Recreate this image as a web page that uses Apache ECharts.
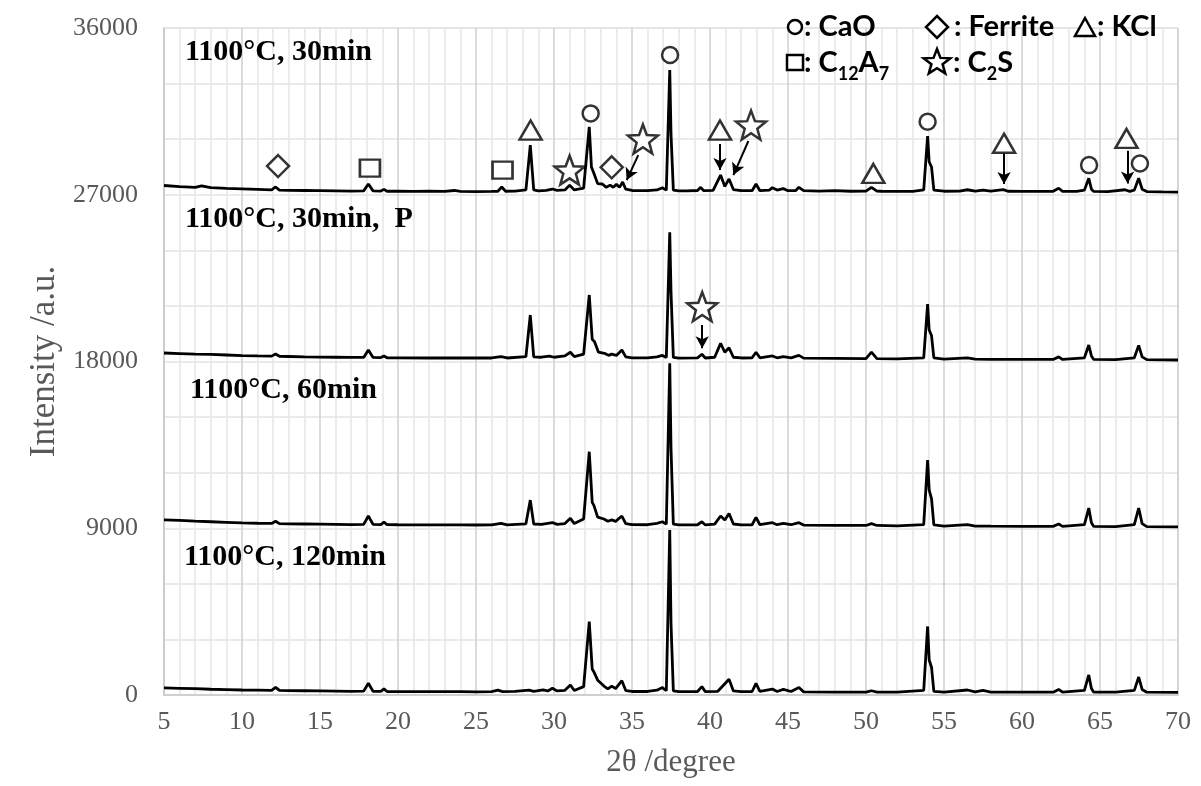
<!DOCTYPE html>
<html>
<head>
<meta charset="utf-8">
<script src="https://cdn.jsdelivr.net/npm/echarts/dist/echarts.min.js"></script>
<style>
  html, body { margin: 0; padding: 0; background: #fff; }
  #main { width: 1201px; height: 786px; }
</style>
</head>
<body>
<div id="main"></div>
<script>
// XRD patterns, [2theta, intensity] (already offset by 9000 per sample)
var xrd_30min = [[5,27500],[6,27440],[7,27400],[7.4,27480],[8,27380],[9,27340],[10,27320],[11,27290],[11.9,27260],[12.15,27420],[12.4,27250],[13,27240],[14,27230],[15,27220],[16,27210],[17,27200],[17.8,27210],[18.1,27580],[18.4,27210],[18.9,27200],[19.1,27290],[19.3,27190],[20,27190],[21,27180],[22,27190],[23,27180],[23.6,27230],[24,27180],[25,27170],[26,27180],[26.4,27190],[26.65,27420],[26.9,27190],[27.5,27200],[28.2,27260],[28.48,29680],[28.7,27260],[29,27210],[29.5,27240],[29.9,27310],[30.2,27240],[30.7,27260],[31.0,27520],[31.3,27260],[31.9,27360],[32.26,30670],[32.4,28500],[32.55,28170],[32.8,27600],[33.1,27580],[33.35,27400],[33.6,27520],[33.8,27400],[34.0,27560],[34.2,27400],[34.4,27690],[34.6,27300],[35,27230],[36,27220],[36.6,27260],[36.95,27380],[37.2,27250],[37.42,33730],[37.5,30300],[37.65,27250],[38,27210],[38.5,27210],[39.2,27230],[39.4,27400],[39.6,27220],[40.2,27240],[40.68,28060],[40.95,27450],[41.22,27850],[41.5,27280],[42,27220],[42.7,27220],[42.95,27580],[43.2,27220],[43.8,27250],[44.0,27380],[44.3,27250],[44.7,27330],[45,27220],[45.5,27230],[45.7,27400],[46,27220],[47,27200],[48,27220],[49,27190],[50,27200],[50.35,27400],[50.7,27200],[51,27190],[52,27180],[53,27180],[53.7,27260],[53.95,30170],[54.05,28780],[54.2,28500],[54.35,27250],[55,27190],[56,27200],[56.5,27270],[57,27200],[57.5,27250],[58,27190],[58.8,27280],[59.1,27190],[60,27180],[61,27180],[62,27190],[62.35,27350],[62.6,27180],[63.5,27180],[64.0,27250],[64.28,27890],[64.45,27300],[64.6,27180],[65.5,27170],[66.6,27270],[66.9,27180],[67.2,27250],[67.48,27890],[67.7,27300],[68,27170],[69,27150],[70,27140]];
var xrd_30min_P = [[5,18460],[6,18430],[7,18400],[8,18380],[9,18350],[10,18320],[11,18300],[11.9,18290],[12.15,18400],[12.4,18280],[13,18270],[14,18250],[15,18240],[16,18230],[17,18220],[17.8,18220],[18.1,18620],[18.4,18220],[18.9,18210],[19.1,18300],[19.3,18200],[20,18200],[22,18190],[24,18190],[25,18190],[26,18190],[26.6,18260],[27,18190],[28.2,18260],[28.48,20510],[28.7,18250],[29.2,18230],[29.7,18290],[30.0,18230],[30.7,18300],[31.05,18500],[31.3,18260],[31.9,18400],[32.26,21590],[32.45,19200],[32.6,19070],[32.85,18500],[33.3,18420],[33.5,18330],[33.7,18400],[34.0,18330],[34.35,18620],[34.6,18250],[35,18200],[36,18200],[36.6,18250],[36.95,18330],[37.2,18220],[37.42,24970],[37.5,21770],[37.65,18220],[38,18180],[39.2,18200],[39.48,18390],[39.7,18190],[40.3,18230],[40.68,18980],[40.95,18500],[41.22,18740],[41.5,18230],[42,18190],[42.7,18200],[42.95,18500],[43.2,18200],[44,18300],[44.3,18200],[44.7,18260],[45.2,18200],[45.7,18330],[46,18180],[48,18170],[50,18160],[50.35,18510],[50.7,18160],[52,18140],[53.7,18200],[53.95,21100],[54.05,19700],[54.2,19400],[54.35,18200],[55,18130],[56.5,18200],[57,18130],[58,18120],[60,18110],[62,18110],[62.35,18250],[62.6,18110],[64.0,18200],[64.28,18890],[64.45,18300],[64.6,18110],[66,18100],[67.2,18200],[67.48,18870],[67.7,18250],[68,18100],[70,18080]];
var xrd_60min = [[5,9450],[6,9420],[7,9380],[8,9350],[9,9320],[10,9290],[11,9270],[11.9,9260],[12.15,9380],[12.4,9250],[13,9240],[14,9230],[15,9220],[16,9210],[17,9200],[17.8,9210],[18.1,9660],[18.4,9210],[18.9,9200],[19.1,9330],[19.3,9200],[20,9190],[22,9180],[24,9180],[25,9175],[26,9180],[26.6,9260],[27,9180],[28.2,9240],[28.48,10520],[28.7,9230],[29.2,9210],[29.9,9310],[30.2,9210],[30.7,9250],[31.05,9535],[31.3,9250],[31.9,9500],[32.26,13130],[32.45,10400],[32.55,10250],[32.8,9600],[33.2,9500],[33.45,9380],[33.7,9450],[33.95,9370],[34.35,9660],[34.6,9250],[35,9200],[36,9190],[36.6,9260],[36.95,9350],[37.2,9220],[37.42,17900],[37.5,13330],[37.65,9220],[38,9180],[39.2,9190],[39.48,9350],[39.7,9180],[40.3,9220],[40.68,9660],[40.95,9450],[41.22,9800],[41.5,9230],[42,9180],[42.7,9190],[42.95,9590],[43.2,9190],[44,9300],[44.3,9190],[44.7,9260],[45.2,9190],[45.7,9300],[46,9170],[48,9160],[50,9150],[50.35,9250],[50.7,9150],[52,9130],[53.7,9200],[53.95,12680],[54.05,11060],[54.2,10600],[54.35,9180],[55,9120],[56.5,9200],[57,9120],[58,9110],[60,9100],[62,9100],[62.35,9230],[62.6,9100],[64.0,9200],[64.28,10090],[64.45,9300],[64.6,9100],[66,9090],[67.2,9200],[67.48,10090],[67.7,9250],[68,9090],[70,9070]];
var xrd_120min = [[5,380],[6,360],[7,340],[8,310],[9,290],[10,270],[11,260],[11.9,250],[12.15,415],[12.4,245],[13,240],[14,230],[15,220],[16,210],[17,200],[17.8,210],[18.1,630],[18.4,200],[18.9,200],[19.1,330],[19.3,190],[20,180],[22,180],[24,180],[25,170],[26,180],[26.4,260],[26.7,180],[27.5,200],[28.4,260],[28.7,200],[29.3,280],[29.6,220],[29.9,360],[30.2,220],[30.7,250],[31.05,540],[31.3,240],[31.9,450],[32.26,3960],[32.45,1400],[32.55,1260],[32.8,800],[33.2,480],[33.45,330],[33.7,480],[33.95,340],[34.35,770],[34.6,240],[35,190],[36,190],[36.6,260],[36.95,400],[37.2,230],[37.42,8900],[37.5,3870],[37.65,220],[38,180],[39.2,190],[39.48,450],[39.7,180],[40.5,200],[41.22,850],[41.5,220],[42,180],[42.7,190],[42.95,630],[43.2,190],[44,320],[44.3,190],[44.7,300],[45.2,190],[45.7,400],[46,170],[48,160],[50,160],[50.35,230],[50.7,160],[52,150],[53.7,250],[53.95,3700],[54.05,1890],[54.2,1500],[54.35,200],[55,160],[56.5,270],[57,170],[57.5,250],[58,160],[60,150],[62,150],[62.35,300],[62.6,150],[64.0,250],[64.28,1080],[64.45,350],[64.6,150],[66,150],[67.2,250],[67.48,970],[67.7,300],[68,150],[70,140]];

// phase markers [2theta, intensity]
var circleMarks = [[32.35,31390],[37.44,34540],[53.95,30940],[64.3,28600],[67.56,28690]];
var diamondMarks = [[12.31,28550],[33.7,28480]];
var triangleMarks = [[28.5,30490],[40.64,30490],[50.47,28150],[58.85,29780],[66.7,30040]];
var squareMarks = [[18.2,28440],[26.7,28330]];
var starMarks = [[31.0,28330],[35.7,30010],[42.63,30760],[39.5,20960]];
// arrows [x1, y1, x2, y2]
var arrows = [[35.4,29140,34.66,27790],[40.64,29740,40.64,28330],[42.46,29900,41.5,28060],[58.85,29230,58.85,27580],[66.77,29370,66.77,27610],[39.5,19970,39.5,18710]];

var yLabelStep = 9000;

// unit star outline (0..100 box), used for the C2S symbol
var starPts = [[50,0],[62.35,33],[97.55,34.55],[69.95,56.5],[79.4,90.45],[50,71],[20.6,90.45],[30.05,56.5],[2.45,34.55],[37.65,33]];
var starPath = 'path://M' + starPts.map(function (p) { return p[0] + ' ' + p[1]; }).join('L') + 'Z';
var serif = '"Liberation Serif", "Times New Roman", serif';
var sans = 'Lato, "Noto Sans", sans-serif';

var chart = echarts.init(document.getElementById('main'));

function traceSeries(name, data) {
    return {
        name: name,
        type: 'line',
        data: data,
        showSymbol: false,
        symbol: 'none',
        lineStyle: {color: '#000', width: 2.8},
        z: 3
    };
}

function markSeries(symbol, size, data) {
    return {
        type: 'scatter',
        symbol: symbol,
        symbolSize: size,
        data: data,
        itemStyle: {color: '#fff', borderColor: '#000', borderWidth: 2.5},
        z: 5,
        silent: true
    };
}

var stars = markSeries(starPath, [30, 29], starMarks);
stars.markLine = {
    silent: true,
    symbol: ['none', 'arrow'],
    symbolSize: [10, 12],
    lineStyle: {color: '#000', width: 2, type: 'solid'},
    label: {show: false},
    data: arrows.map(function (a) {
        return [{coord: [a[0], a[1]]}, {coord: [a[2], a[3]]}];
    })
};

var sampleLabelStyle = {font: 'bold 30px ' + serif, fill: '#000', verticalAlign: 'middle'};
var legendText = {font: 'bold 29px ' + sans, fill: '#000', verticalAlign: 'middle'};
var legendShape = {fill: '#fff', stroke: '#000', lineWidth: 2.5};
var subRich = {s: {font: 'bold 18px ' + sans, verticalAlign: 'bottom', padding: [0, 0, -6, 0]}};

function legendStar(x, y, w, h) {
    return starPts.map(function (p) { return [x + p[0] * w / 100, y + p[1] * h / 100]; });
}

function label(x, y, text) {
    return {type: 'text', x: x, y: y, z: 20, style: Object.assign({text: text}, sampleLabelStyle)};
}

chart.setOption({
    animation: false,
    grid: {left: 164, right: 23, top: 28, bottom: 91, show: true, borderColor: '#d9d9d9', borderWidth: 1},
    xAxis: {
        type: 'value',
        min: 5,
        max: 70,
        interval: 5,
        name: '2θ /degree',
        nameLocation: 'middle',
        nameGap: 52,
        nameTextStyle: {fontFamily: serif, fontSize: 31, color: '#595959'},
        axisLine: {lineStyle: {color: '#c8c8c8', width: 1.5}},
        axisTick: {show: false},
        axisLabel: {fontFamily: serif, fontSize: 26, color: '#595959', margin: 14},
        splitLine: {show: true, lineStyle: {color: '#cfcfcf', width: 1.5}},
        minorTick: {show: false, splitNumber: 5},
        minorSplitLine: {show: true, lineStyle: {color: '#e6e6e6', width: 1.5}}
    },
    yAxis: {
        type: 'value',
        min: 0,
        max: 36000,
        interval: 3000,
        name: 'Intensity /a.u.',
        nameLocation: 'middle',
        nameGap: 102,
        nameTextStyle: {fontFamily: serif, fontSize: 35, color: '#595959'},
        axisLine: {show: true, lineStyle: {color: '#c8c8c8', width: 1.5}},
        axisTick: {show: false},
        axisLabel: {
            fontFamily: serif, fontSize: 26, color: '#595959', margin: 26,
            formatter: function (v) { return v % yLabelStep === 0 ? String(v) : ''; }
        },
        splitLine: {show: true, lineStyle: {color: '#e3e3e3', width: 1.5}}
    },
    series: [
        traceSeries('1100°C, 30min', xrd_30min),
        traceSeries('1100°C, 30min, P', xrd_30min_P),
        traceSeries('1100°C, 60min', xrd_60min),
        traceSeries('1100°C, 120min', xrd_120min),
        markSeries('circle', 16, circleMarks),
        markSeries('diamond', [22, 22], diamondMarks),
        markSeries('triangle', [22, 19], triangleMarks),
        markSeries('rect', [20, 17], squareMarks),
        stars
    ],
    graphic: [
        label(185, 52, '1100°C, 30min'),
        label(185, 219, '1100°C, 30min,  P'),
        label(190, 390, '1100°C, 60min'),
        label(184, 557, '1100°C, 120min'),

        // phase legend
        {type: 'circle', z: 20, shape: {cx: 795, cy: 27, r: 7}, style: legendShape},
        {type: 'text', z: 20, x: 804, y: 27, style: Object.assign({text: ': CaO'}, legendText)},
        {type: 'polygon', z: 20, shape: {points: [[937, 16], [948, 27], [937, 38], [926, 27]]}, style: legendShape},
        {type: 'text', z: 20, x: 954, y: 27, style: Object.assign({text: ': Ferrite'}, legendText)},
        {type: 'polygon', z: 20, shape: {points: [[1085, 18], [1095, 36], [1075, 36]]}, style: legendShape},
        {type: 'text', z: 20, x: 1097, y: 27, style: Object.assign({text: ': KCl'}, legendText)},
        {type: 'rect', z: 20, shape: {x: 787, y: 55, width: 16, height: 15}, style: legendShape},
        {type: 'text', z: 20, x: 804, y: 63, style: Object.assign({text: ': C{s|12}A{s|7}', rich: subRich}, legendText)},
        {type: 'polygon', z: 20, shape: {points: legendStar(923, 49, 28, 27)}, style: legendShape},
        {type: 'text', z: 20, x: 953, y: 63, style: Object.assign({text: ': C{s|2}S', rich: subRich}, legendText)}
    ]
});
</script>
</body>
</html>
